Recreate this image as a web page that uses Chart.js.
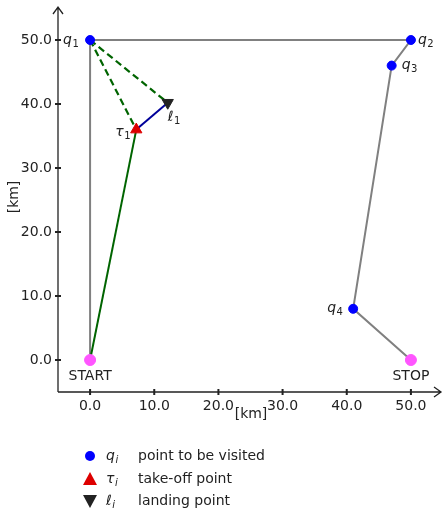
<!DOCTYPE html>
<html>
<head>
<meta charset="utf-8">
<script src="https://cdn.jsdelivr.net/npm/chart.js@4.4.1/dist/chart.umd.min.js"></script>
<style>
  html, body { margin: 0; padding: 0; background: #fff; }
  #wrap { width: 443px; height: 509px; }
</style>
</head>
<body>
<div id="wrap"><canvas id="c" width="443" height="509"></canvas></div>
<script>
// route of the truck: START -> q1 -> q2 -> q3 -> q4 -> STOP
const routeNames = ['START', 'q1', 'q2', 'q3', 'q4', 'STOP'];
const routeX = [0, 0, 50, 47, 41, 50];
const routeY = [0, 50, 50, 46, 8, 0];

// drone: take-off and landing points
const takeoffX = [7.2];
const takeoffY = [36];
const landingX = [12.1];
const landingY = [40.2];

const tickValues = [0, 10, 20, 30, 40, 50];
const axisMin = -5;
const axisMax = 55;

const pt = (x, y) => ({ x: x, y: y });
const route = routeX.map((x, i) => pt(x, routeY[i]));
const visits = route.slice(1, 5);
const ends = [route[0], route[5]];
const tau = pt(takeoffX[0], takeoffY[0]);
const ell = pt(landingX[0], landingY[0]);

// labels next to points
const pointLabels = [
    { p: route[1], base: 'q', sub: '1', dx: -27, dy: 0 },
    { p: route[2], base: 'q', sub: '2', dx: 7, dy: 0 },
    { p: route[3], base: 'q', sub: '3', dx: 10, dy: 0 },
    { p: route[4], base: 'q', sub: '4', dx: -26, dy: 0 },
    { p: tau, base: 'τ', sub: '1', dx: -21, dy: 3 },
    { p: ell, base: 'ℓ', sub: '1', dx: 0, dy: 15 }
];

function mathText(ctx, base, sub, x, y, size, subItalic) {
    ctx.textAlign = 'left';
    ctx.textBaseline = 'middle';
    ctx.fillStyle = '#222';
    ctx.font = 'italic ' + size + 'px "DejaVu Sans"';
    ctx.fillText(base, x, y);
    const w = ctx.measureText(base).width;
    ctx.font = (subItalic ? 'italic ' : '') + Math.round(size * 0.72) + 'px "DejaVu Sans"';
    ctx.fillText(sub, x + w + 0.5, y + size * 0.28);
}

const decorPlugin = {
    id: 'decor',
    afterDatasetsDraw(chart) {
        const ctx = chart.ctx;
        const xs = chart.scales.x, ys = chart.scales.y;
        const x0 = xs.getPixelForValue(axisMin), y0 = ys.getPixelForValue(axisMin);
        const xEnd = 441, yTop = 7;
        ctx.save();
        ctx.strokeStyle = '#222';
        ctx.lineWidth = 1.3;
        ctx.beginPath();
        ctx.moveTo(x0, y0); ctx.lineTo(xEnd, y0);
        ctx.moveTo(x0, y0); ctx.lineTo(x0, yTop);
        // arrow heads
        ctx.moveTo(xEnd - 7, y0 - 5); ctx.lineTo(xEnd, y0); ctx.lineTo(xEnd - 7, y0 + 5);
        ctx.moveTo(x0 - 5, yTop + 7); ctx.lineTo(x0, yTop); ctx.lineTo(x0 + 5, yTop + 7);
        ctx.stroke();
        // tick marks across the axes
        ctx.lineWidth = 2;
        ctx.beginPath();
        tickValues.forEach(v => {
            const px = xs.getPixelForValue(v);
            ctx.moveTo(px, y0 - 3); ctx.lineTo(px, y0 + 3);
            const py = ys.getPixelForValue(v);
            ctx.moveTo(x0 - 3, py); ctx.lineTo(x0 + 3, py);
        });
        ctx.stroke();

        // point labels
        pointLabels.forEach(l => {
            const px = xs.getPixelForValue(l.p.x) + l.dx;
            const py = ys.getPixelForValue(l.p.y) + l.dy;
            mathText(ctx, l.base, l.sub, px, py, 14, false);
        });
        ctx.font = '14px "DejaVu Sans"';
        ctx.fillStyle = '#222';
        ctx.textAlign = 'center';
        ctx.textBaseline = 'middle';
        ctx.fillText('START', xs.getPixelForValue(route[0].x), ys.getPixelForValue(route[0].y) + 16);
        ctx.fillText('STOP', xs.getPixelForValue(route[5].x), ys.getPixelForValue(route[5].y) + 16);

        // axis titles
        ctx.fillText('[km]', 251, 414);
        ctx.save();
        ctx.translate(14, 197);
        ctx.rotate(-Math.PI / 2);
        ctx.fillText('[km]', 0, 0);
        ctx.restore();

        // legend
        const rows = [
            { y: 456, base: 'q', text: 'point to be visited' },
            { y: 479, base: 'τ', text: 'take-off point' },
            { y: 501, base: 'ℓ', text: 'landing point' }
        ];
        ctx.fillStyle = '#0000ff';
        ctx.beginPath(); ctx.arc(90, rows[0].y, 5, 0, Math.PI * 2); ctx.fill();
        ctx.fillStyle = '#dd0000';
        ctx.beginPath();
        ctx.moveTo(90, rows[1].y - 7); ctx.lineTo(97, rows[1].y + 6); ctx.lineTo(83, rows[1].y + 6);
        ctx.closePath(); ctx.fill();
        ctx.fillStyle = '#222';
        ctx.beginPath();
        ctx.moveTo(83, rows[2].y - 6); ctx.lineTo(97, rows[2].y - 6); ctx.lineTo(90, rows[2].y + 7);
        ctx.closePath(); ctx.fill();
        rows.forEach(r => {
            mathText(ctx, r.base, 'i', 106, r.y, 14, true);
            ctx.font = '14px "DejaVu Sans"';
            ctx.fillStyle = '#222';
            ctx.textAlign = 'left';
            ctx.textBaseline = 'middle';
            ctx.fillText(r.text, 138, r.y);
        });
        ctx.restore();
    }
};

const fmt = v => Number(v).toFixed(1);

new Chart(document.getElementById('c'), {
    type: 'scatter',
    data: {
        datasets: [
            {
                // points to be visited
                data: visits,
                backgroundColor: '#0000ff',
                borderColor: '#0000ff',
                pointRadius: 4.5,
                pointHoverRadius: 4.5
            },
            {
                // START / STOP
                data: ends,
                backgroundColor: '#ff55ff',
                borderColor: '#ff55ff',
                pointRadius: 5.5,
                pointHoverRadius: 5.5
            },
            {
                data: [tau],
                pointStyle: 'triangle',
                backgroundColor: '#dd0000',
                borderColor: '#dd0000',
                pointRadius: 6.5
            },
            {
                data: [ell],
                pointStyle: 'triangle',
                rotation: 180,
                backgroundColor: '#222',
                borderColor: '#222',
                pointRadius: 6.5
            },
            {
                // drone flight tau -> ell
                data: [tau, ell],
                showLine: true,
                borderColor: '#000099',
                borderWidth: 2,
                pointRadius: 0
            },
            {
                // truck START -> tau
                data: [route[0], tau],
                showLine: true,
                borderColor: '#006400',
                borderWidth: 2,
                pointRadius: 0
            },
            {
                data: [route[1], tau],
                showLine: true,
                borderColor: '#006400',
                borderDash: [7, 4],
                borderWidth: 2.2,
                pointRadius: 0
            },
            {
                data: [route[1], ell],
                showLine: true,
                borderColor: '#006400',
                borderDash: [7, 4],
                borderWidth: 2.2,
                pointRadius: 0
            },
            {
                // truck route
                data: route,
                showLine: true,
                borderColor: '#808080',
                borderWidth: 2,
                pointRadius: 0
            }
        ]
    },
    options: {
        responsive: false,
        animation: false,
        events: [],
        layout: { autoPadding: false, padding: { top: 8, right: 0, left: 0, bottom: 0 } },
        plugins: { legend: { display: false }, tooltip: { enabled: false } },
        scales: {
            x: {
                type: 'linear',
                min: axisMin,
                max: axisMax,
                grid: { display: false, drawTicks: false },
                border: { display: false },
                afterBuildTicks: s => { s.ticks = tickValues.map(v => ({ value: v })); },
                afterFit: s => {
                    s.height = 117;
                    s.paddingLeft = 0; s.paddingRight = 0;
                },
                ticks: {
                    padding: 6,
                    maxRotation: 0,
                    autoSkip: false,
                    color: '#222',
                    font: { family: 'DejaVu Sans', size: 14 },
                    callback: fmt
                }
            },
            y: {
                type: 'linear',
                min: axisMin,
                max: axisMax,
                grid: { display: false, drawTicks: false },
                border: { display: false },
                afterBuildTicks: s => { s.ticks = tickValues.map(v => ({ value: v })); },
                afterFit: s => {
                    s.width = 58;
                    s.paddingTop = 0; s.paddingBottom = 0;
                },
                ticks: {
                    padding: 6,
                    autoSkip: false,
                    color: '#222',
                    font: { family: 'DejaVu Sans', size: 14 },
                    callback: fmt
                }
            }
        }
    },
    plugins: [decorPlugin]
});
</script>
</body>
</html>
